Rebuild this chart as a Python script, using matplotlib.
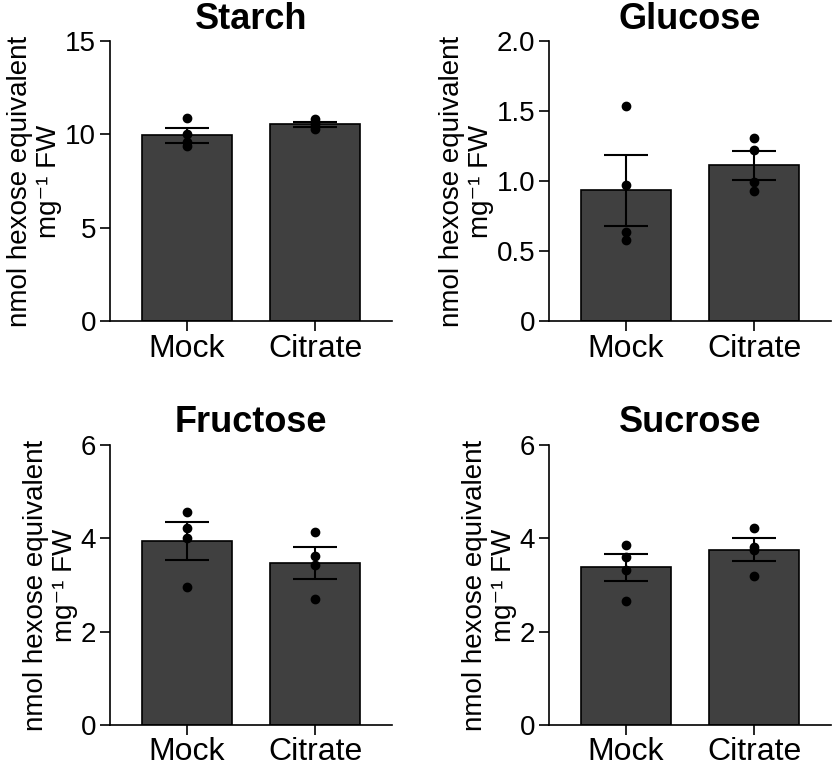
import numpy as np
import matplotlib
matplotlib.use("Agg")
from matplotlib import pyplot as plt

plt.rcParams['font.family'] = ['Liberation Sans', 'DejaVu Sans']

groups = ["Mock", "Citrate"]
titles = ["Starch", "Glucose", "Fructose", "Sucrose"]

# bar heights (means) and SEM
starch_mean = [9.96, 10.53]
starch_sem = [0.40, 0.15]
starch_pts = [[10.9, 10.0, 9.6, 9.35], [10.8, 10.6, 10.45, 10.3]]

glucose_mean = [0.935, 1.113]
glucose_sem = [0.253, 0.104]
glucose_pts = [[1.536, 0.971, 0.638, 0.579], [1.305, 1.221, 0.995, 0.929]]

fructose_mean = [3.943, 3.479]
fructose_sem = [0.40, 0.343]
fructose_pts = [[4.557, 4.229, 4.007, 2.95], [4.129, 3.629, 3.429, 2.693]]

sucrose_mean = [3.379, 3.757]
sucrose_sem = [0.296, 0.247]
sucrose_pts = [[3.864, 3.593, 3.329, 2.664], [4.229, 3.807, 3.757, 3.2]]

ylims = [15, 2.0, 6, 6]
yticks = [[0, 5, 10, 15], [0, 0.5, 1.0, 1.5, 2.0], [0, 2, 4, 6], [0, 2, 4, 6]]
yticklabels = [["0", "5", "10", "15"], ["0", "0.5", "1.0", "1.5", "2.0"],
               ["0", "2", "4", "6"], ["0", "2", "4", "6"]]

means = [starch_mean, glucose_mean, fructose_mean, sucrose_mean]
sems = [starch_sem, glucose_sem, fructose_sem, sucrose_sem]
points = [starch_pts, glucose_pts, fructose_pts, sucrose_pts]

fig = plt.figure(figsize=(8.34, 7.66), dpi=100)
W, H = 834, 766
boxes = [(110, 41), (549, 41), (110, 445), (549, 445)]
aw, ah = 282, 280

x = np.arange(len(groups))
for i, (bx, by) in enumerate(boxes):
    ax = fig.add_axes([bx / W, (H - by - ah) / H, aw / W, ah / H])
    ax.bar(x, means[i], width=0.70, color="#404040", edgecolor="black",
           linewidth=1.2, zorder=2)
    ax.errorbar(x, means[i], yerr=sems[i], fmt="none", ecolor="black",
                elinewidth=1.5, capsize=16, capthick=1.5, zorder=3)
    for j, pts in enumerate(points[i]):
        ax.plot([x[j]] * len(pts), pts, "o", color="black", markersize=6,
                zorder=4, clip_on=False)
    ax.set_xlim(-0.60, 1.60)
    ax.set_ylim(0, ylims[i])
    ax.set_yticks(yticks[i])
    ax.set_yticklabels(yticklabels[i])
    ax.set_xticks(x)
    ax.set_xticklabels(groups)
    ax.spines["top"].set_visible(False)
    ax.spines["right"].set_visible(False)
    ax.spines["left"].set_linewidth(1.2)
    ax.spines["bottom"].set_linewidth(1.2)
    ax.tick_params(axis="both", width=1.2, length=7)
    ax.tick_params(axis="y", labelsize=20, pad=3)
    ax.tick_params(axis="x", labelsize=23, pad=2)
    ax.set_title(titles[i], fontsize=26, fontweight="bold", pad=9)
    ax.set_ylabel("nmol hexose equivalent\nmg⁻¹ FW", fontsize=20,
                  labelpad=2, linespacing=1.15)

fig.savefig("out.png", dpi=100)
